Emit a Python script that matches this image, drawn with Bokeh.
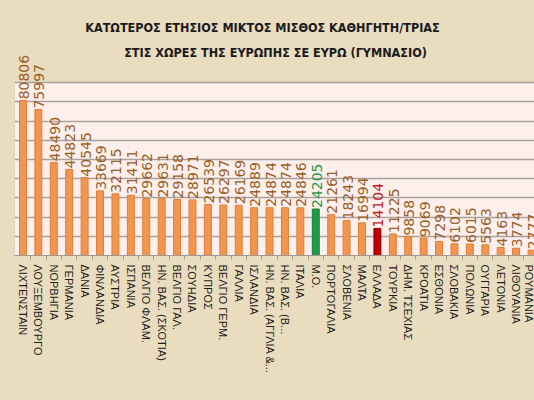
import math
from bokeh.plotting import figure
from bokeh.models import Range1d, FixedTicker, BoxAnnotation, Label, ColumnDataSource
from bokeh.embed import file_html
from bokeh.resources import INLINE
from bokeh.core.properties import value

countries = [
    "ΛΙΧΤΕΝΣΤΑΙΝ", "ΛΟΥΞΕΜΒΟΥΡΓΟ", "ΝΟΡΒΗΓΙΑ", "ΓΕΡΜΑΝΙΑ", "ΔΑΝΙΑ",
    "ΦΙΝΛΑΝΔΙΑ", "ΑΥΣΤΡΙΑ", "ΙΣΠΑΝΙΑ", "ΒΕΛΓΙΟ ΦΛΑΜ.", "ΗΝ. ΒΑΣ. (ΣΚΟΤΙΑ)",
    "ΒΕΛΓΙΟ ΓΑΛ.", "ΣΟΥΗΔΙΑ", "ΚΥΠΡΟΣ", "ΒΕΛΓΙΟ ΓΕΡΜ.", "ΓΑΛΛΙΑ",
    "ΙΣΛΑΝΔΙΑ", "ΗΝ. ΒΑΣ. (ΑΓΓΛΙΑ &...", "ΗΝ. ΒΑΣ. (Β...", "ΙΤΑΛΙΑ", "Μ.Ο.",
    "ΠΟΡΤΟΓΑΛΙΑ", "ΣΛΟΒΕΝΙΑ", "ΜΑΛΤΑ", "ΕΛΛΑΔΑ", "ΤΟΥΡΚΙΑ",
    "ΔΗΜ. ΤΣΕΧΙΑΣ", "ΚΡΟΑΤΙΑ", "ΕΣΘΟΝΙΑ", "ΣΛΟΒΑΚΙΑ", "ΠΟΛΩΝΙΑ",
    "ΟΥΓΓΑΡΙΑ", "ΛΕΤΟΝΙΑ", "ΛΙΘΟΥΑΝΙΑ", "ΡΟΥΜΑΝΙΑ",
]
salaries = [
    80806, 75997, 48490, 44823, 40545,
    33669, 32115, 31411, 29662, 29631,
    29158, 28971, 26539, 26297, 26169,
    24889, 24874, 24874, 24846, 24205,
    21261, 18243, 16994, 14104, 11225,
    9858, 9069, 7298, 6102, 6015,
    5563, 4163, 3774, 2777,
]
grid_values = [0, 10000, 20000, 30000, 40000, 50000, 60000, 70000, 80000, 90000]
title_line1 = "ΚΑΤΩΤΕΡΟΣ ΕΤΗΣΙΟΣ ΜΙΚΤΟΣ ΜΙΣΘΟΣ ΚΑΘΗΓΗΤΗ/ΤΡΙΑΣ"
title_line2 = "ΣΤΙΣ ΧΩΡΕΣ ΤΗΣ ΕΥΡΩΠΗΣ ΣΕ ΕΥΡΩ (ΓΥΜΝΑΣΙΟ)"
average_name = "Μ.Ο."
greece_name = "ΕΛΛΑΔΑ"

PARCH = "#e9dcbf"
PINK = "#fdf0ec"
ORANGE = "#f0964f"
ORANGE_LINE = "#e07e35"
LABEL_BROWN = "#9a5e28"

fills, lines, tcols = [], [], []
for c in countries:
    if c == average_name:
        fills.append("#1f9a4b"); lines.append("#15803c"); tcols.append("#1f9a4b")
    elif c == greece_name:
        fills.append("#c00000"); lines.append("#8a0000"); tcols.append("#c0182a")
    else:
        fills.append(ORANGE); lines.append(ORANGE_LINE); tcols.append(LABEL_BROWN)

idx = list(range(len(countries)))
src = ColumnDataSource(dict(x=idx, y=salaries, lbl=[str(v) for v in salaries],
                            fill=fills, line=lines, tcol=tcols))

W, H = 534, 400
LEFT, BOTTOM = 14, 145
px_per_unit = 1.92 / 1000.0
frame_w = W - LEFT
frame_h = H - BOTTOM
cat_px = 15.41
p = figure(width=W, height=H, output_backend="svg", toolbar_location=None,
           x_range=Range1d(-0.55, -0.55 + frame_w / cat_px),
           y_range=Range1d(0, frame_h / px_per_unit),
           min_border_left=LEFT, min_border_right=0, min_border_top=0,
           min_border_bottom=BOTTOM)
p.background_fill_color = PARCH
p.border_fill_color = PARCH
p.outline_line_color = None

box = BoxAnnotation(bottom=grid_values[0], top=grid_values[-1], fill_color=PINK,
                    fill_alpha=1.0, line_color="#b0a6a2", line_width=1, level="image")
p.add_layout(box)

p.yaxis.visible = False
p.xgrid.visible = False
p.ygrid.ticker = FixedTicker(ticks=grid_values)
p.ygrid.grid_line_color = "#aaa19e"
p.ygrid.grid_line_width = 1.5

p.vbar(x="x", top="y", width=0.45, bottom=0, source=src,
       fill_color="fill", line_color="line", line_width=1)

p.text(x="x", y="y", text="lbl", source=src, angle=math.pi / 2,
       text_align="left", text_baseline="middle", y_offset=-1, x_offset=1,
       text_color="tcol", text_font=value("DejaVu Sans"), text_font_size="14px")

xa = p.xaxis[0]
xa.ticker = FixedTicker(ticks=idx, minor_ticks=[i + 0.5 for i in idx])
xa.major_label_overrides = {i: c for i, c in zip(idx, countries)}
xa.major_label_orientation = "vertical"
xa.major_label_text_font = "Liberation Sans"
xa.major_label_text_font_size = "11px"
xa.major_label_text_color = "#1c1c1c"
xa.major_label_standoff = 5
xa.major_tick_line_color = None
xa.major_tick_out = 4
xa.major_tick_in = 0
xa.minor_tick_line_color = "#a09894"
xa.minor_tick_out = 4
xa.minor_tick_in = 0
xa.axis_line_color = "#a09894"
xa.axis_line_width = 1

title_font = "DejaVu Sans Condensed"
for txt, sx, sy in [(title_line1, 248, 228), (title_line2, 261, 203)]:
    p.add_layout(Label(x=sx, y=sy, x_units="screen", y_units="screen", text=txt,
                       text_align="center", text_baseline="middle",
                       text_font=title_font, text_font_style="bold",
                       text_font_size="12.5px", text_color="#1a1a1a"))

html = file_html(p, INLINE)
html = html.replace("</head>", "<style>body{background:%s;}</style></head>" % PARCH)
open("out.html", "w").write(html)
